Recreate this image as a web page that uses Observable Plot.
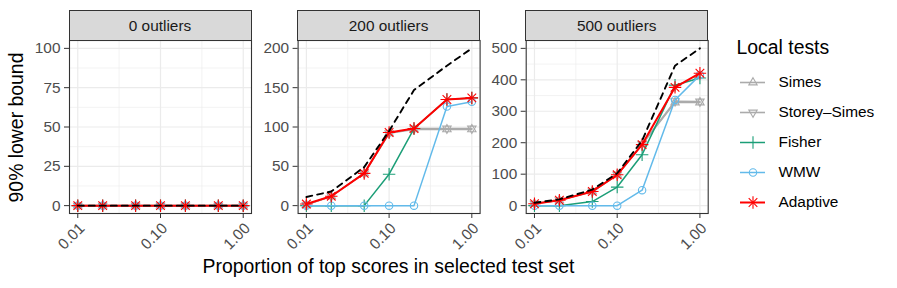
<!DOCTYPE html>
<html>
<head>
<meta charset="utf-8">
<script src="https://cdn.jsdelivr.net/npm/d3@7"></script>
<script src="https://cdn.jsdelivr.net/npm/@observablehq/plot@0.6"></script>
<style>
  body { margin: 0; background: #fff; font-family: "Liberation Sans", Arial, Helvetica, sans-serif; }
  #chart { position: relative; width: 897px; height: 288px; overflow: hidden; background: #fff; }
  #chart svg { position: absolute; left: 0; top: 0; }
  .strip { position: absolute; top: 9.5px; height: 31px; box-sizing: border-box; background: #D9D9D9;
           border: 1px solid #333; color: #1A1A1A; font-size: 15.4px; text-align: center; line-height: 29px; }
  .title { position: absolute; color: #000; font-size: 19.4px; line-height: 19px; white-space: nowrap; }
</style>
</head>
<body>
<div id="chart"></div>
<script>
// ---------------- data ----------------
const props = [0.01, 0.02, 0.05, 0.1, 0.2, 0.5, 1.0];
const facets = ["0 outliers", "200 outliers", "500 outliers"];
const methods = ["Simes", "Storey\u2013Simes", "Fisher", "WMW", "Adaptive"];
const xTicks = [0.01, 0.1, 1];
const yTicks0 = [0, 25, 50, 75, 100];
const yTicks200 = [0, 50, 100, 150, 200];
const yTicks500 = [0, 100, 200, 300, 400, 500];

const oracle0   = [0, 0, 0, 0, 0, 0, 0];
const simes0    = [0, 0, 0, 0, 0, 0, 0];
const storey0   = [0, 0, 0, 0, 0, 0, 0];
const fisher0   = [0, 0, 0, 0, 0, 0, 0];
const wmw0      = [0, 0, 0, 0, 0, 0, 0];
const adaptive0 = [0, 0, 0, 0, 0, 0, 0];

const oracle200   = [11, 18, 49, 95, 147, 178, 200];
const simes200    = [1, 12, 41, 92, 97, 97, 97];
const storey200   = [1, 12, 41, 92, 98, 98, 98];
const fisher200   = [0, 0, 0, 40, 98, 135, 137];
const wmw200      = [0, 0, 0, 0, 0, 126, 132];
const adaptive200 = [2, 12, 41, 93, 98, 135, 137];

const oracle500   = [9, 20, 51, 103, 207, 445, 500];
const simes500    = [6, 17, 45, 98, 195, 328, 328];
const storey500   = [6, 17, 45, 98, 196, 332, 331];
const fisher500   = [0, 0, 13, 59, 162, 383, 406];
const wmw500      = [0, 0, 0, 0, 49, 336, 415];
const adaptive500 = [6, 17, 45, 98, 194, 376, 421];

// ---------------- styles / layout ----------------
const colors = ["#ABABAB", "#ABABAB", "#1B9E77", "#62BAEA", "#FF0000"];
const W = 897, H = 288;
const panelLeft = [69, 297.6, 525.7];
const panelW = 182;
const frameTop = 40, frameBottom = 213;
const FONT = '"Liberation Sans", Arial, Helvetica, sans-serif';

const allSeries = [
  {oracle: oracle0, vals: [simes0, storey0, fisher0, wmw0, adaptive0], ticks: yTicks0},
  {oracle: oracle200, vals: [simes200, storey200, fisher200, wmw200, adaptive200], ticks: yTicks200},
  {oracle: oracle500, vals: [simes500, storey500, fisher500, wmw500, adaptive500], ticks: yTicks500}
];

const lineW = {"Simes": 1.6, "Storey\u2013Simes": 1.6, "Fisher": 1.5, "WMW": 1.5, "Adaptive": 2};

function symbolMarks(data, m, x, y) {
  const base = {x, y, stroke: "method", fill: "none", strokeWidth: 1.1};
  if (m === "Simes") return [Plot.dot(data, {...base, symbol: "triangle2", r: 4})];
  if (m === "Storey\u2013Simes") return [Plot.dot(data, {...base, symbol: "triangle2", r: 4, rotate: 180})];
  if (m === "Fisher") return [Plot.dot(data, {...base, symbol: "plus", r: 4.1})];
  if (m === "WMW") return [Plot.dot(data, {...base, symbol: "circle", r: 3.7})];
  return [Plot.dot(data, {...base, symbol: "plus", r: 4.1}), Plot.dot(data, {...base, symbol: "times", r: 4})];
}

const chart = document.getElementById("chart");

allSeries.forEach((s, i) => {
  const rows = [];
  methods.forEach((m, mi) => s.vals[mi].forEach((v, j) => rows.push({method: m, p: props[j], v})));
  const orows = s.oracle.map((v, j) => ({p: props[j], v}));
  const yt = s.ticks;
  const yMinor = yt.slice(1).map((t, k) => (t + yt[k]) / 2);
  const xMinor = xTicks.slice(1).map((t, k) => Math.sqrt(t * xTicks[k]));
  const ymax = yt[yt.length - 1];
  const L = panelLeft[i];
  const marks = [
    Plot.gridX(xMinor, {stroke: "#EBEBEB", strokeOpacity: 1, strokeWidth: 0.6}),
    Plot.gridY(yMinor, {stroke: "#EBEBEB", strokeOpacity: 1, strokeWidth: 0.6}),
    Plot.gridX(xTicks, {stroke: "#EBEBEB", strokeOpacity: 1, strokeWidth: 1.2}),
    Plot.gridY(yt, {stroke: "#EBEBEB", strokeOpacity: 1, strokeWidth: 1.2})
  ];
  methods.forEach(m => {
    const d = rows.filter(r => r.method === m);
    marks.push(Plot.line(d, {x: "p", y: "v", stroke: "method", strokeWidth: lineW[m]}));
    marks.push(...symbolMarks(d, m, "p", "v"));
  });
  marks.push(
    Plot.line(orows, {x: "p", y: "v", stroke: "#000", strokeWidth: 1.9, strokeDasharray: "6,5"}),
    Plot.frame({stroke: "#333", strokeWidth: 1.1}),
    Plot.axisY(yt, {tickSize: 5, tickPadding: 4, stroke: "#333", fill: "#4D4D4D", fontSize: 15.4, label: null, tickFormat: d => String(d)}),
    Plot.axisX(xTicks, {tickSize: 5, stroke: "#333", fill: "none", tickFormat: () => "", label: null}),
    Plot.text(xTicks, {x: d => d, frameAnchor: "bottom", text: d => d3.format(".2f")(d), rotate: -45,
      textAnchor: "end", lineAnchor: "top", dx: 0, dy: 8, fill: "#4D4D4D", fontSize: 15.4})
  );
  const svg = Plot.plot({
    width: W, height: H,
    marginLeft: L, marginRight: W - L - panelW, marginTop: frameTop, marginBottom: H - frameBottom,
    style: {background: "transparent", fontFamily: FONT, overflow: "visible"},
    x: {type: "log", domain: [Math.pow(10, -2.1), Math.pow(10, 0.1)]},
    y: {domain: [-0.05 * ymax, 1.05 * ymax]},
    color: {domain: methods, range: colors},
    marks
  });
  chart.appendChild(svg);

  const strip = document.createElement("div");
  strip.className = "strip";
  strip.style.left = (L - 0.5) + "px";
  strip.style.width = (panelW + 1) + "px";
  strip.textContent = facets[i];
  chart.appendChild(strip);
});

// legend
const legend = Plot.plot({
  width: W, height: H,
  marginLeft: 740, marginRight: W - 765, marginTop: 80.7, marginBottom: H - 202.7,
  style: {background: "transparent", fontFamily: FONT, overflow: "visible"},
  x: {domain: [0, 1], axis: null},
  y: {type: "point", domain: methods, padding: 0, axis: null},
  color: {domain: methods, range: colors},
  marks: [
    Plot.ruleY(methods, {y: d => d, x1: 0, x2: 1, stroke: d => d, strokeWidth: d => lineW[d]}),
    ...methods.flatMap(m => symbolMarks([{method: m}], m, () => 0.5, "method")),
    Plot.text(methods, {x: 1, y: d => d, text: d => d, dx: 13, textAnchor: "start", lineAnchor: "middle", fill: "#000", fontSize: 15.4})
  ]
});
chart.appendChild(legend);

function addTitle(text, css) {
  const t = document.createElement("div");
  t.className = "title";
  t.textContent = text;
  Object.assign(t.style, css);
  chart.appendChild(t);
  return t;
}
addTitle("Local tests", {left: "736.5px", top: "37.5px"});
const xt = addTitle("Proportion of top scores in selected test set", {top: "257px"});
xt.style.left = (388.5 - xt.offsetWidth / 2) + "px";
const yt = addTitle("90% lower bound", {});
yt.style.left = (17 - yt.offsetWidth / 2) + "px";
yt.style.top = (127 - yt.offsetHeight / 2) + "px";
yt.style.transform = "rotate(-90deg)";
</script>
</body>
</html>
